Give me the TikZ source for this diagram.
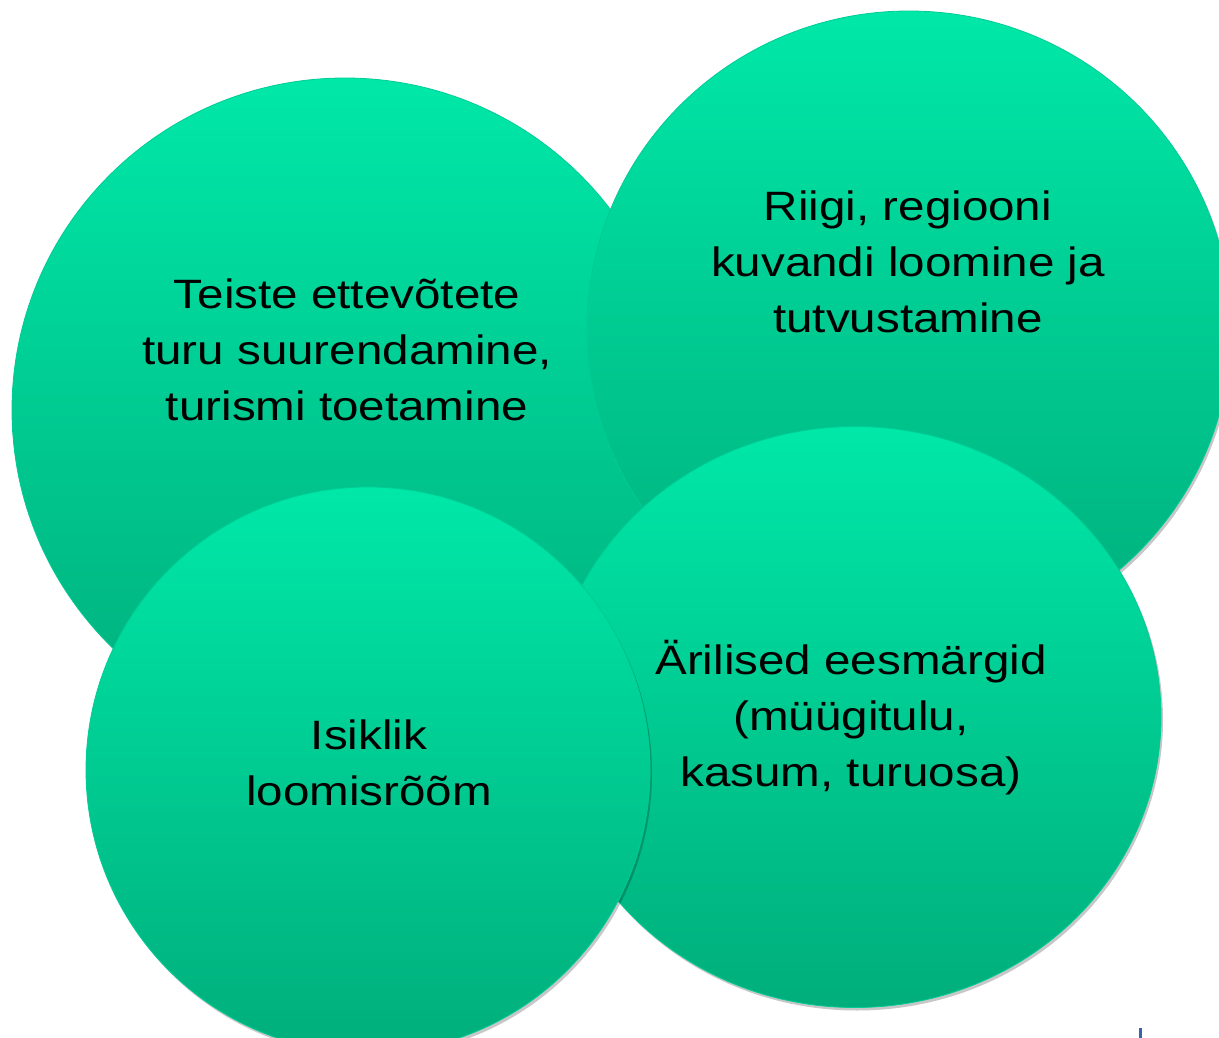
\documentclass[tikz,border=0pt]{standalone}
\usepackage{fontspec}
\setmainfont[FakeStretch=1.16]{Liberation Sans}
\usetikzlibrary{shapes.geometric,shadows}
\definecolor{gtop}{HTML}{00E8A8}
\definecolor{gbot}{HTML}{00AE7B}
\definecolor{gedge}{HTML}{00CC96}
\definecolor{markblue}{HTML}{3A62A8}
\begin{document}
\begin{tikzpicture}[x=1pt,y=-1pt,
  bubble/.style={ellipse, inner sep=0pt, top color=gtop, bottom color=gbot,
    draw=gedge, line width=0.8pt,
    drop shadow={shadow xshift=2pt, shadow yshift=-3pt, fill=black, opacity=0.22}},
  label/.style={align=center, font=\fontsize{41}{56}\selectfont, text=black}]
\useasboundingbox[fill=white] (0,0) rectangle (1219,1038);
\node[bubble, minimum width=666pt, minimum height=664pt] (c1) at (345,410) {};
\node[bubble, minimum width=644pt, minimum height=636pt] (c2) at (909,329) {};
\node[bubble, minimum width=612pt, minimum height=581pt] (c3) at (855,717) {};
\node[bubble, minimum width=564pt, minimum height=566pt] (c4) at (368,770) {};
\node[label] (t1) at (347,350) {Teiste ettevõtete\\turu suurendamine,\\turismi toetamine};
\node[label] (t2) at (908,262) {Riigi, regiooni\\kuvandi loomine ja\\tutvustamine};
\node[label] (t3) at (851,718) {Ärilised eesmärgid\\(müügitulu,\\kasum, turuosa)};
\node[label] (t4) at (369,763) {Isiklik\\loomisrõõm};
\fill[markblue] (1139,1028) rectangle (1142,1038);
\end{tikzpicture}
\end{document}
